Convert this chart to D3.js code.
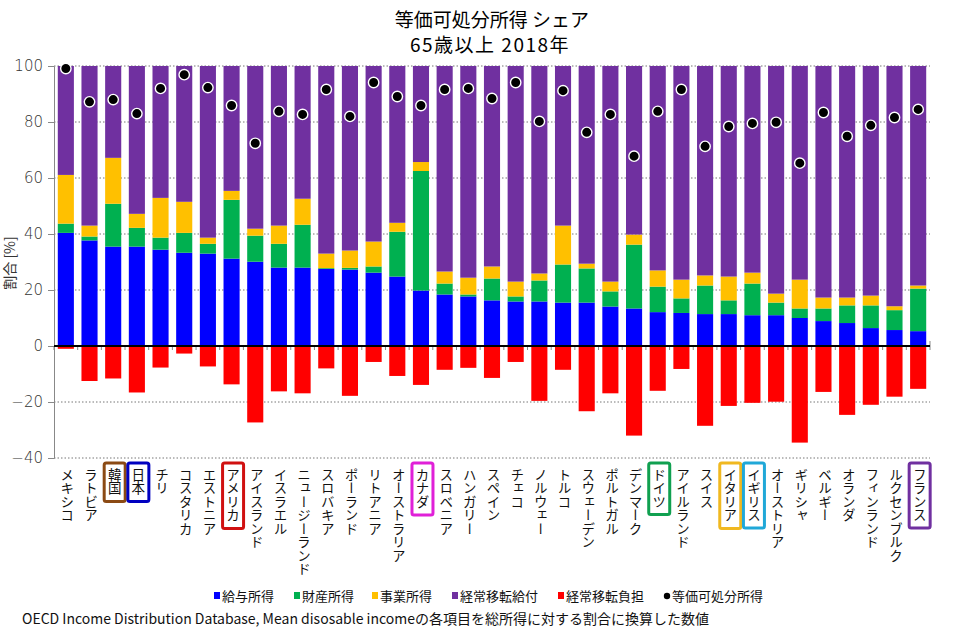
<!DOCTYPE html>
<html><head><meta charset="utf-8">
<script src="https://cdn.jsdelivr.net/npm/d3@7/dist/d3.min.js"></script>
<style>
body{margin:0;background:#fff;}
svg{font-family:"Noto Sans CJK JP","Noto Sans",sans-serif;}
</style></head>
<body><svg id="c" width="977" height="639"></svg>
<script>
const countries = ["メキシコ","ラトビア","韓国","日本","チリ","コスタリカ","エストニア","アメリカ","アイスランド","イスラエル","ニュージーランド","スロバキア","ポーランド","リトアニア","オーストラリア","カナダ","スロベニア","ハンガリー","スペイン","チェコ","ノルウェー","トルコ","スウェーデン","ポルトガル","デンマーク","ドイツ","アイルランド","スイス","イタリア","イギリス","オーストリア","ギリシャ","ベルギー","オランダ","フィンランド","ルクセンブルク","フランス"];
const wage      = [40.4,37.7,35.5,35.5,34.4,33.3,33.0,31.2,30.1,28.0,28.0,27.5,27.3,26.2,24.8,19.8,18.4,17.7,16.3,15.9,15.9,15.5,15.5,14.1,13.4,12.1,11.8,11.4,11.4,11.0,11.0,10.0,8.9,8.2,6.4,5.7,5.3];
const property  = [3.3,1.4,15.3,6.7,4.3,7.1,3.5,21.0,9.3,8.5,15.3,0.3,0.6,2.2,16.0,42.7,3.9,0.7,7.8,1.8,7.5,13.6,12.2,5.4,22.8,9.1,5.2,10.2,4.9,11.3,4.5,3.4,4.5,6.3,8.1,7.1,15.2];
const business  = [17.4,3.9,16.4,5.0,14.2,11.1,2.2,3.2,2.5,6.5,9.3,5.2,6.2,8.9,3.2,3.2,4.3,6.0,4.3,5.3,2.5,13.9,1.7,3.5,3.6,5.8,6.7,3.6,8.5,3.9,3.2,10.3,3.9,2.8,3.5,1.4,1.1];
const transfers = [38.9,57.0,32.8,52.8,47.1,48.5,61.3,44.6,58.1,57.0,47.4,67.0,65.9,62.7,56.0,34.3,73.4,75.6,71.6,77.0,74.1,57.0,70.6,77.0,60.2,73.0,76.3,74.8,75.2,73.8,81.3,76.3,82.7,82.7,82.0,85.8,78.4];
const burden    = [-1.0,-12.5,-11.6,-16.6,-7.7,-2.7,-7.3,-13.7,-27.3,-16.2,-16.9,-8.0,-17.8,-5.7,-10.7,-13.9,-8.5,-7.8,-11.4,-5.7,-19.6,-8.5,-23.3,-16.9,-32.0,-16.0,-8.2,-28.5,-21.4,-20.3,-19.9,-34.5,-16.4,-24.6,-21.0,-18.1,-15.3];
const disposable= [99.1,87.2,88.0,83.0,92.0,96.9,92.3,85.9,72.4,83.8,82.7,91.6,82.0,94.1,89.1,85.9,91.6,92.0,88.4,94.1,80.2,91.2,76.3,82.7,67.8,83.8,91.6,71.3,78.4,79.5,79.9,65.3,83.4,74.9,78.8,81.6,84.5];
const yTicks = [-40,-20,0,20,40,60,80,100];
const seriesNames = ["給与所得","財産所得","事業所得","経常移転給付","経常移転負担","等価可処分所得"];
const seriesColors = ["#0000ff","#00b050","#ffc000","#7030a0","#ff0000","#000000"];
const highlight = {"韓国":"#8b4a14","日本":"#0000c0","アメリカ":"#d01010","カナダ":"#e020d8","ドイツ":"#10a050","イタリア":"#f0b820","イギリス":"#20a8d8","フランス":"#7030a0"};

const svg = d3.select("#c");
const L = 54, R = 930, T = 66, B = 458;
const x = d3.scaleBand().domain(countries).range([L, R]).paddingInner(0.32).paddingOuter(0.16);
const y = d3.scaleLinear().domain([-40, 100]).range([B, T]);

// title
svg.append("text").attr("x", 492).attr("y", 27).attr("text-anchor","middle").attr("font-size",19).attr("fill","#000").text("等価可処分所得 シェア");
svg.append("text").attr("x", 490).attr("y", 52).attr("text-anchor","middle").attr("font-size",19).attr("letter-spacing",1.5).attr("fill","#000").text("65歳以上 2018年");

// grid
svg.append("g").selectAll("line").data(yTicks.filter(d=>d!==0)).join("line")
  .attr("x1", L).attr("x2", R).attr("y1", d=>y(d)).attr("y2", d=>y(d))
  .attr("stroke","#777").attr("stroke-width",1).attr("stroke-dasharray","1.5,2");

// y axis
const ya = svg.append("g").attr("transform",`translate(${L},0)`)
  .call(d3.axisLeft(y).tickValues(yTicks).tickSize(6).tickPadding(5));
ya.select(".domain").attr("stroke","#888");
ya.selectAll(".tick line").attr("stroke","#888");
ya.selectAll(".tick text").attr("font-size",15).attr("fill","#333").attr("font-family","'DejaVu Sans',sans-serif").attr("font-weight",300);

svg.append("text").attr("transform","translate(15,263) rotate(-90)").attr("text-anchor","middle")
  .attr("font-size",14).attr("fill","#333").text("割合 [%]");

// stacked positive bars
const rows = countries.map((c,i)=>({c, vals:[wage[i],property[i],business[i],transfers[i]]}));
rows.forEach(r=>{
  let acc = 0;
  r.vals.forEach((v,k)=>{
    svg.append("rect").attr("x", x(r.c)).attr("width", x.bandwidth())
      .attr("y", y(acc+v)).attr("height", y(acc)-y(acc+v)).attr("fill", seriesColors[k]);
    acc += v;
  });
});
// negative bars
svg.append("g").selectAll("rect").data(countries).join("rect")
  .attr("x", d=>x(d)).attr("width", x.bandwidth())
  .attr("y", y(0)).attr("height", (d,i)=>y(burden[i])-y(0)).attr("fill", seriesColors[4]);

// x ticks on zero line
const bounds = countries.map(c=>x(c)-x.step()*x.paddingInner()/2).concat([R]);
svg.append("g").selectAll("line").data(bounds).join("line")
  .attr("x1", d=>d).attr("x2", d=>d).attr("y1", y(0)).attr("y2", y(0)+4).attr("stroke","#888");
svg.append("line").attr("x1",R).attr("x2",R).attr("y1",y(0)-5).attr("y2",y(0)).attr("stroke","#888");
// zero line
svg.append("line").attr("x1", L).attr("x2", R).attr("y1", y(0)).attr("y2", y(0)).attr("stroke","#000").attr("stroke-width",2);

// dots
svg.append("g").selectAll("circle").data(countries).join("circle")
  .attr("cx", d=>x(d)+x.bandwidth()/2).attr("cy",(d,i)=>y(disposable[i])).attr("r",5.2)
  .attr("fill","#000").attr("stroke","#fff").attr("stroke-width",1.4);

// x labels
const lg = svg.append("g");
countries.forEach(c=>{
  const cx = x(c)+x.bandwidth()/2+1.5;
  const t = lg.append("text").attr("x", cx).attr("y", 468)
    .style("writing-mode","vertical-rl").attr("font-size",13.5).attr("fill","#111").text(c);
  if (highlight[c]) {
    const bb = t.node().getBBox();
    lg.insert("rect", () => t.node()).attr("x", cx-10.5).attr("y", 463).attr("width", 21).attr("height", bb.height+11)
      .attr("rx",2).attr("fill","#fff").attr("stroke", highlight[c]).attr("stroke-width",3);
  }
});

// legend
const legX = [214,294,372,452,558,664];
seriesNames.forEach((n,i)=>{
  const g = svg.append("g").attr("transform",`translate(${legX[i]},596)`);
  if (i<5) g.append("rect").attr("x",0).attr("y",-4).attr("width",6).attr("height",7).attr("fill",seriesColors[i]);
  else g.append("circle").attr("cx",3).attr("cy",0).attr("r",3.2).attr("fill","#000");
  g.append("text").attr("x",8).attr("y",5).attr("font-size",13).attr("fill","#111").text(n);
});

svg.append("text").attr("x",22).attr("y",624).attr("font-size",14).attr("fill","#111")
  .text("OECD Income Distribution Database, Mean disosable incomeの各項目を総所得に対する割合に換算した数値");
</script></body></html>
